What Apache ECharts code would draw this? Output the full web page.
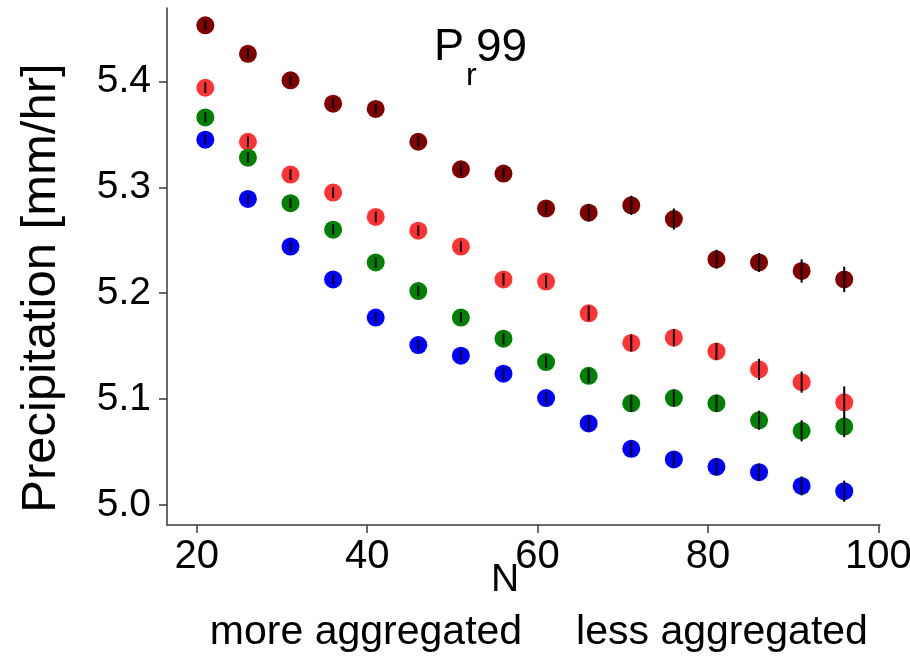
<!DOCTYPE html>
<html>
<head>
<meta charset="utf-8">
<title>P_r99 vs N</title>
<script src="https://cdn.jsdelivr.net/npm/echarts@6/dist/echarts.min.js"></script>
<style>
  html, body { margin: 0; padding: 0; background: #ffffff; }
  #chart { width: 910px; height: 657px; }
</style>
</head>
<body>
<div id="chart"></div>
<script>
// Number of aggregated cells (x) shared by all series
const nValues = [21, 26, 31, 36, 41, 46, 51, 56, 61, 66, 71, 76, 81, 86, 91, 96];

// 99th percentile precipitation [mm/hr], one array per configuration
const darkRedValues = [5.453, 5.426, 5.401, 5.379, 5.374, 5.343, 5.317, 5.313, 5.280, 5.276, 5.283, 5.270, 5.232, 5.229, 5.221, 5.213];
const redValues     = [5.394, 5.343, 5.312, 5.295, 5.272, 5.259, 5.244, 5.213, 5.211, 5.181, 5.153, 5.158, 5.145, 5.128, 5.116, 5.097];
const greenValues   = [5.366, 5.328, 5.285, 5.260, 5.229, 5.202, 5.177, 5.157, 5.135, 5.122, 5.096, 5.101, 5.096, 5.080, 5.070, 5.074];
const blueValues    = [5.345, 5.289, 5.244, 5.213, 5.177, 5.151, 5.141, 5.124, 5.101, 5.077, 5.053, 5.043, 5.036, 5.031, 5.018, 5.013];

// Half-length of the error bars
const darkRedErr = [0.005, 0.005, 0.005, 0.005, 0.005, 0.005, 0.006, 0.006, 0.006, 0.008, 0.009, 0.010, 0.009, 0.009, 0.011, 0.012];
const redErr     = [0.005, 0.005, 0.005, 0.005, 0.005, 0.005, 0.005, 0.006, 0.006, 0.007, 0.008, 0.008, 0.008, 0.010, 0.010, 0.015];
const greenErr   = [0.005, 0.005, 0.005, 0.005, 0.005, 0.005, 0.005, 0.006, 0.006, 0.007, 0.008, 0.008, 0.008, 0.009, 0.010, 0.010];
const blueErr    = [0.005, 0.005, 0.005, 0.005, 0.005, 0.005, 0.005, 0.006, 0.006, 0.007, 0.007, 0.007, 0.008, 0.008, 0.009, 0.010];

// Axis tick labels
const xTicks = [20, 40, 60, 80, 100];
const yTicks = [5.0, 5.1, 5.2, 5.3, 5.4];

const FONT = '"Liberation Sans", Arial, Helvetica, sans-serif';
const AXIS_COLOR = '#3a3a3a';

const groups = [
  { name: 'dark red', color: '#800000', values: darkRedValues, err: darkRedErr },
  { name: 'red',      color: '#ff3333', values: redValues,     err: redErr },
  { name: 'green',    color: '#008000', values: greenValues,   err: greenErr },
  { name: 'blue',     color: '#0000ff', values: blueValues,    err: blueErr }
];

const series = [];
groups.forEach(function (g, gi) {
  series.push({
    name: g.name,
    type: 'scatter',
    symbol: 'circle',
    symbolSize: 18,
    itemStyle: { color: g.color, opacity: 1 },
    z: 2 + gi,
    silent: true,
    data: nValues.map(function (n, i) { return [n, g.values[i]]; })
  });
});

// Error bars: black vertical segments through each marker
groups.forEach(function (g, gi) {
  series.push({
    name: g.name + ' err',
    type: 'custom',
    z: 10 + gi,
    silent: true,
    data: nValues.map(function (n, i) { return [n, g.values[i] - g.err[i], g.values[i] + g.err[i]]; }),
    renderItem: function (params, api) {
      const lo = api.coord([api.value(0), api.value(1)]);
      const hi = api.coord([api.value(0), api.value(2)]);
      return {
        type: 'line',
        shape: { x1: lo[0], y1: lo[1], x2: hi[0], y2: hi[1] },
        style: { stroke: '#000000', lineWidth: 2 }
      };
    }
  });
});

const chart = echarts.init(document.getElementById('chart'), null, { renderer: 'canvas' });

chart.setOption({
  backgroundColor: '#ffffff',
  animation: false,
  grid: {
    left: 167, top: 8, width: 713, height: 517,
    containLabel: false,
    outerBoundsMode: 'none'
  },
  xAxis: {
    type: 'value',
    min: 16.5,
    max: 100.2,
    axisLine: { show: true, onZero: false, lineStyle: { color: AXIS_COLOR, width: 1.5 } },
    axisTick: { show: true, inside: false, length: 8, customValues: xTicks, lineStyle: { color: AXIS_COLOR, width: 1.5 } },
    axisLabel: {
      show: true, customValues: xTicks, margin: 12,
      color: '#000000', fontFamily: FONT, fontSize: 40,
      formatter: function (v) { return String(v); }
    },
    splitLine: { show: false }
  },
  yAxis: {
    type: 'value',
    min: 4.9811,
    max: 5.4693,
    axisLine: { show: true, onZero: false, lineStyle: { color: AXIS_COLOR, width: 1.5 } },
    axisTick: { show: true, inside: false, length: 8, customValues: yTicks, lineStyle: { color: AXIS_COLOR, width: 1.5 } },
    axisLabel: {
      show: true, customValues: yTicks, margin: 16,
      color: '#000000', fontFamily: FONT, fontSize: 39,
      formatter: function (v) { return v.toFixed(1); }
    },
    splitLine: { show: false }
  },
  graphic: [
    {
      type: 'text', x: 41, y: 288, rotation: Math.PI / 2,
      style: {
        text: 'Precipitation [mm/hr]', fill: '#000000',
        font: '49px ' + FONT, align: 'center', verticalAlign: 'middle'
      }
    },
    {
      type: 'text', x: 434, y: 48,
      style: { text: 'P', fill: '#000000', font: '45px ' + FONT, align: 'left', verticalAlign: 'middle' }
    },
    {
      type: 'text', x: 466, y: 76,
      style: { text: 'r', fill: '#000000', font: '32px ' + FONT, align: 'left', verticalAlign: 'middle' }
    },
    {
      type: 'text', x: 476, y: 48,
      style: { text: '99', fill: '#000000', font: '46px ' + FONT, align: 'left', verticalAlign: 'middle' }
    },
    {
      type: 'text', x: 505, y: 580,
      style: { text: 'N', fill: '#000000', font: '39px ' + FONT, align: 'center', verticalAlign: 'middle' }
    },
    {
      type: 'text', x: 366, y: 633,
      style: { text: 'more aggregated', fill: '#000000', font: '41px ' + FONT, align: 'center', verticalAlign: 'middle' }
    },
    {
      type: 'text', x: 722, y: 633,
      style: { text: 'less aggregated', fill: '#000000', font: '41px ' + FONT, align: 'center', verticalAlign: 'middle' }
    }
  ],
  series: series
});
</script>
</body>
</html>
